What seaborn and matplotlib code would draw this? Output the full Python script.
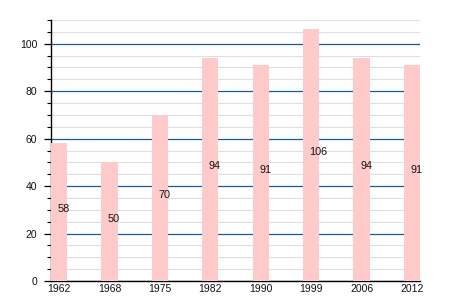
import matplotlib
matplotlib.use("Agg")
import matplotlib.pyplot as plt
import seaborn as sns
import pandas as pd
from matplotlib.ticker import MultipleLocator

years = ["1962", "1968", "1975", "1982", "1990", "1999", "2006", "2012"]
values = [58, 50, 70, 94, 91, 106, 94, 91]
y_ticks = [0, 20, 40, 60, 80, 100]

sns.set_style("white")
plt.rcParams['font.family'] = ['Liberation Sans', 'DejaVu Sans']

df = pd.DataFrame({"year": years, "value": values})

fig = plt.figure(figsize=(4.5, 3), dpi=100)
ax = fig.add_axes([51/450, 1-281/300, 369/450, 261/300])

w = 0.32
sns.barplot(data=df, x="year", y="value", color="#ffcaca", saturation=1,
            width=w, ax=ax, zorder=3, edgecolor="none")

for i, v in enumerate(values):
    ax.text(i - 0.03, v / 2, str(v), ha="left", va="baseline", fontsize=7.8,
            color="#111111", zorder=5, clip_on=False)

ax.set_xlim(-w/2, len(years) - 1 + w/2)
ax.set_ylim(0, 110)
ax.set_yticks(y_ticks)
ax.yaxis.set_minor_locator(MultipleLocator(5))
ax.grid(False)
ax.grid(axis="y", which="major", color="#1a5a96", linewidth=0.9, zorder=1)
ax.grid(axis="y", which="minor", color="#dedede", linewidth=0.8, zorder=0)
ax.set_axisbelow(True)

ax.set_xlabel("")
ax.set_ylabel("")
for s in ["top", "right"]:
    ax.spines[s].set_visible(False)
for s in ["left", "bottom"]:
    ax.spines[s].set_color("black")
    ax.spines[s].set_linewidth(1.0)

ax.tick_params(axis="y", which="major", left=True, length=5, width=0.9,
               color="black", labelsize=7.5, pad=5, labelcolor="#111111")
ax.tick_params(axis="y", which="minor", left=True, length=3, width=0.8,
               color="black")
ax.tick_params(axis="x", which="both", bottom=False, length=0, labelsize=7.5,
               pad=2, labelcolor="#111111")

fig.savefig("out.png", dpi=100)
